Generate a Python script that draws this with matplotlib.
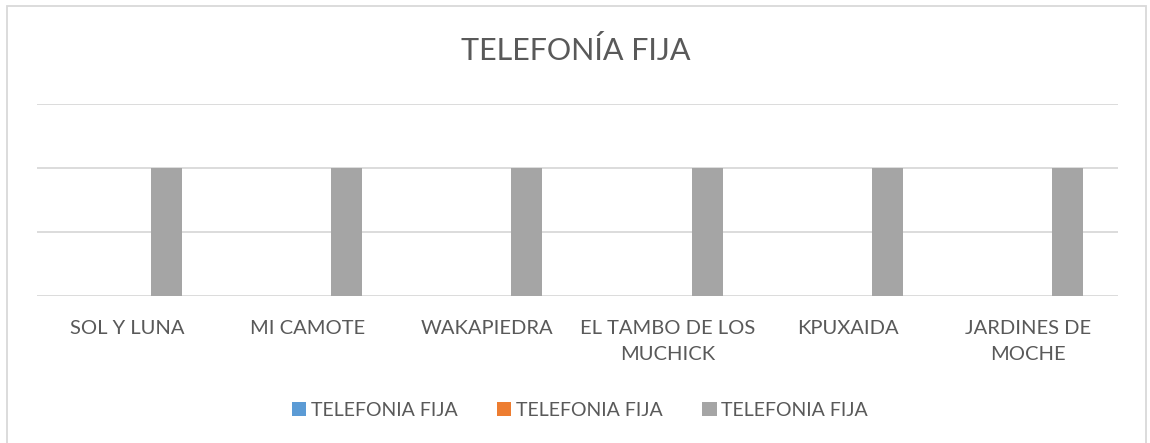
import numpy as np
import matplotlib
matplotlib.use("Agg")
import matplotlib.pyplot as plt
from matplotlib.patches import Rectangle


# =========================
# DATA
# =========================
categories = [
    "SOL Y LUNA",
    "MI CAMOTE",
    "WAKAPIEDRA",
    "EL TAMBO DE LOS\nMUCHICK",
    "KPUXAIDA",
    "JARDINES DE\nMOCHE",
]
series_names = ["TELEFONIA FIJA", "TELEFONIA FIJA", "TELEFONIA FIJA"]
serie_1 = [0, 0, 0, 0, 0, 0]
serie_2 = [0, 0, 0, 0, 0, 0]
serie_3 = [2, 2, 2, 2, 2, 2]

colors = ["#5B9BD5", "#ED7D31", "#A5A5A5"]
TEXT = "#595959"
GRID = "#D9D9D9"
FONT = ["Lato", "DejaVu Sans"]

plt.rcParams["font.family"] = FONT

# =========================
# FIGURE
# =========================
W, H = 1150, 443
fig = plt.figure(figsize=(W / 100, H / 100), dpi=100)
ax = fig.add_axes([37 / W, 1 - 296 / H, (1118 - 37) / W, (296 - 104) / H])

x = np.arange(len(categories))
width = 0.172
offset = 0.219
for i, vals in enumerate([serie_1, serie_2, serie_3]):
    ax.bar(x + (i - 1) * offset, vals, width=width, color=colors[i],
           label=series_names[i], zorder=3)

ax.set_xlim(-0.5, len(categories) - 0.5)
ax.set_ylim(0, 3)
ax.set_yticks([0, 1, 2, 3])
ax.yaxis.grid(True, color=GRID, linewidth=1.3, zorder=0)
ax.tick_params(axis="y", left=False, labelleft=False)
ax.tick_params(axis="x", bottom=False, pad=14)
ax.set_xticks(x)
ax.set_xticklabels(categories, fontsize=14.5, color=TEXT, linespacing=1.6,
                   va="top")
for s in ax.spines.values():
    s.set_visible(False)

fig.text(576 / W, 1 - 51 / H, "TELEFONÍA FIJA", ha="center", va="center",
         fontsize=22, color=TEXT)

leg = fig.legend(loc="center", bbox_to_anchor=(580 / W, 1 - 410 / H), ncol=3,
                 frameon=False, fontsize=14, handlelength=0.75,
                 handleheight=0.75, handletextpad=0.25, columnspacing=2.0)
for t in leg.get_texts():
    t.set_color(TEXT)

fig.patches.append(Rectangle((7 / W, -0.05), (1146 - 7) / W, 1.05 - 6 / H,
                             transform=fig.transFigure, fill=False,
                             edgecolor=GRID, linewidth=1.3))

fig.savefig("out.png", dpi=100, facecolor="white")
